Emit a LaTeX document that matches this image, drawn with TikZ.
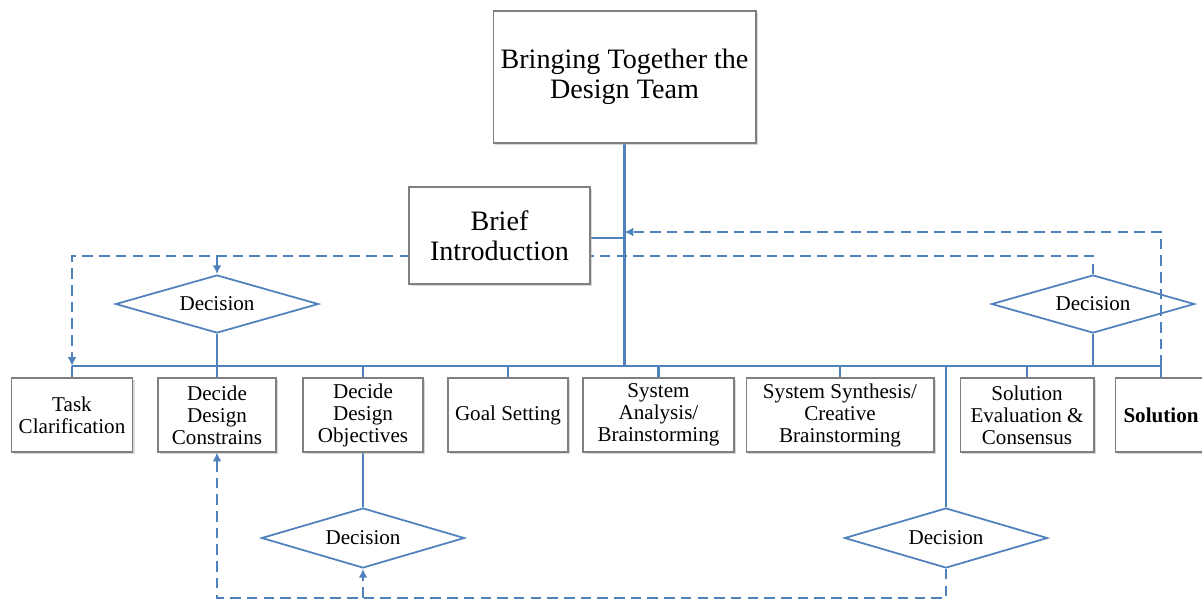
\documentclass[tikz,border=0pt]{standalone}
\usepackage{fontspec}
\setmainfont{Liberation Serif}
\usetikzlibrary{shapes.geometric,shadows,arrows.meta,backgrounds}
\definecolor{flowblue}{RGB}{79,129,189}
\begin{document}
\begin{tikzpicture}[x=0.02cm,y=-0.02cm,
    box/.style={draw=black!50,line width=0.6pt,fill=white,align=center,inner sep=0pt,
      minimum height=1.48cm,font=\fontsize{12}{12.5}\selectfont,
      drop shadow={shadow xshift=1.2pt,shadow yshift=-1.2pt,fill=black!30}},
    bigbox/.style={box,font=\fontsize{16}{17}\selectfont},
    decision/.style={diamond,draw=flowblue,line width=1pt,aspect=3.5,inner sep=0pt,
      minimum width=4.06cm,minimum height=1.16cm,font=\fontsize{12}{14}\selectfont},
    link/.style={draw=flowblue,line width=1.2pt},
    back/.style={link,dash pattern=on 6pt off 3.5pt,-{Latex[length=5pt,width=5pt]}}]
      \useasboundingbox (0,0) rectangle (1202,600);
      \node[bigbox,minimum width=5.26cm,minimum height=2.64cm] (team) at (624.5,77) {Bringing Together the\\Design Team};
      \node[bigbox,minimum width=3.62cm,minimum height=1.94cm] (brief) at (499.5,235.5) {Brief\\Introduction};
      \node[box,minimum width=2.42cm] (task) at (72,415) {Task\\Clarification};
      \node[box,minimum width=2.36cm] (cons) at (217,415) {Decide\\Design\\Constrains};
      \node[box,minimum width=2.4cm] (obj) at (363,415) {Decide\\Design\\Objectives};
      \node[box,minimum width=2.4cm] (goal) at (508,415) {Goal Setting};
      \node[box,minimum width=3.02cm] (anal) at (658.5,415) {System\\Analysis/\\Brainstorming};
      \node[box,minimum width=3.76cm] (synth) at (840,415) {System Synthesis/\\Creative\\Brainstorming};
      \node[box,minimum width=2.68cm] (eval) at (1027,415) {Solution\\Evaluation \&\\Consensus};
      \node[box,minimum width=1.84cm,font=\fontsize{12}{12.5}\selectfont\bfseries] (sol) at (1161,415) {Solution};
      \node[decision] (dcons) at (217,304) {Decision};
      \node[decision] (dsol) at (1093,304) {Decision};
      \node[decision,minimum height=1.2cm] (dobj) at (363,538) {Decision};
      \node[decision,minimum height=1.2cm] (dsyn) at (946,538) {Decision};
      \coordinate (bus) at (624.5,366);
      \coordinate (loopin) at (624.5,232);
      \coordinate (topback) at (72,256);
      \coordinate (lowback) at (217,598);
      \coordinate (briefout) at ([yshift=-1.5pt]brief.east);
      \begin{scope}[on background layer]
        \draw[link] (task.north |- bus) -- (sol.north |- bus);
        \foreach \n in {task,cons,obj,goal,anal,synth,eval,sol}
          \draw[link] (\n.north) -- (\n.north |- bus);
        \draw[link] (team.south) -- (bus);
        \draw[link] (briefout) -- (briefout -| team.south);
        \draw[link] (dcons.south) -- (dcons.south |- bus);
        \draw[link] (dsol.south) -- (dsol.south |- bus);
        \draw[link] (obj.south) -- (dobj.north);
        \draw[link] (dsyn.north |- bus) -- (dsyn.north);
        \draw[back] (sol.north |- bus) |- (loopin);
        \draw[back] (dsol.north) |- (topback) -- (task.north |- bus);
        \draw[back] (dcons.north |- topback) -- (dcons.north);
        \draw[back] (dsyn.south) |- (lowback) -- (cons.south);
        \draw[back] (dobj.south |- lowback) -- (dobj.south);
      \end{scope}
    \end{tikzpicture}
\end{document}
